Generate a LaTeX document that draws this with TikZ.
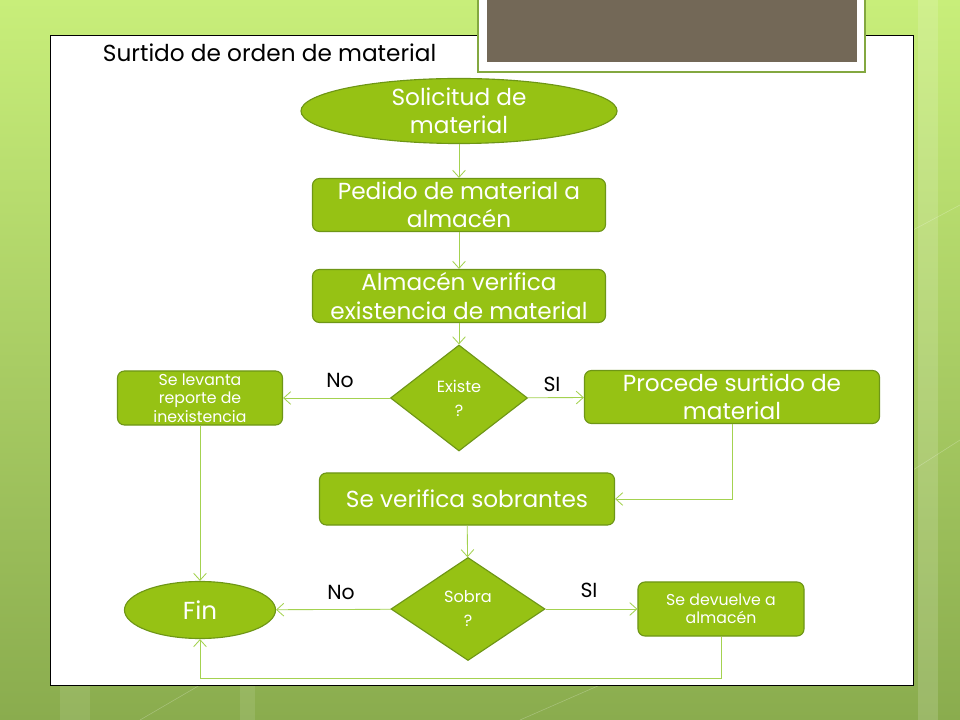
\documentclass[tikz,border=0pt]{standalone}
\usepackage{fontspec}
\setmainfont{Poppins}
\usetikzlibrary{arrows.meta, calc, positioning, shapes.geometric}

\definecolor{verdecaja}{RGB}{150,194,20}
\definecolor{bordecaja}{RGB}{110,150,22}
\definecolor{verdelinea}{RGB}{164,210,80}
\definecolor{fondoarriba}{RGB}{200,238,122}
\definecolor{fondoabajo}{RGB}{138,172,78}
\definecolor{grismarco}{RGB}{115,104,87}

\tikzset{
  caja/.style={draw=bordecaja, fill=verdecaja, rounded corners=5pt, line width=0.8pt,
    text=white, align=center, inner sep=0pt, font=\fontsize{16.5}{20}\selectfont},
  cajita/.style={caja, font=\fontsize{11.2}{13}\selectfont},
  elipse/.style={ellipse, draw=bordecaja, fill=verdecaja, line width=0.8pt,
    text=white, align=center, inner sep=0pt, font=\fontsize{16.5}{20}\selectfont},
  rombo/.style={diamond, draw=bordecaja, fill=verdecaja, line width=0.8pt, aspect=1.3,
    text=white, align=center, inner sep=0pt, font=\fontsize{11.5}{17}\selectfont},
  flecha/.style={draw=verdelinea, line width=0.6pt, -{Straight Barb[length=5pt,width=9pt]}},
  rama/.style={font=\fontsize{14.5}{17}\selectfont}
}

\begin{document}
\begin{tikzpicture}[x=0.025cm, y=-0.025cm]
        % fondo y marco
        \useasboundingbox (0,0) rectangle (960,720);
        \shade[top color=fondoarriba, bottom color=fondoabajo] (0,0) rectangle (960,720);
        \fill[white, opacity=0.15] (918,0) rectangle (938,720);
        \fill[white, opacity=0.10] (60,685) rectangle (90,720);
        \fill[white, opacity=0.10] (240,685) rectangle (255,720);
        \draw[white, opacity=0.25] (913,470) -- (960,440);
        \draw[white, opacity=0.25] (913,230) -- (960,205);
        \draw[white, opacity=0.25] (140,720) -- (200,685);
        \draw[white, opacity=0.25] (520,720) -- (600,685);
        \draw[black, fill=white, line width=0.6pt] (50,35) rectangle (913,685);
        \fill[white] (478,-2) rectangle (865,72);
        \draw[verdelinea!80!black, line width=1.2pt] (478,-2) rectangle (865,72);
        \fill[grismarco] (487,-2) rectangle (857,62);

        \node[anchor=west, font=\fontsize{16.5}{20}\selectfont] (titulo) at (98,53) {Surtido de orden de material};

        % nodos
        \node[elipse, minimum width=7.9cm, minimum height=1.55cm] (sol) at (459,111) {Solicitud de\\material};
        \node[caja, minimum width=7.325cm, minimum height=1.325cm] (ped) at (459,205) {Pedido de material a\\almacén};
        \node[caja, minimum width=7.325cm, minimum height=1.325cm] (alm) at (459,296) {Almacén verifica\\existencia de material};
        \node[rombo, minimum width=3.425cm, minimum height=2.65cm] (exi) at (459,398) {Existe\\?};
        \node[cajita, minimum width=4.125cm, minimum height=1.35cm] (rep) at (200,398) {Se levanta\\reporte de\\inexistencia};
        \node[caja, minimum width=7.375cm, minimum height=1.325cm] (pro) at (732,397) {Procede surtido de\\material};
        \node[caja, minimum width=7.375cm, minimum height=1.3cm] (ver) at (467,499) {Se verifica sobrantes};
        \node[rombo, minimum width=3.85cm, minimum height=2.575cm] (sob) at (468,609) {Sobra\\?};
        \node[elipse, minimum width=3.775cm, minimum height=1.425cm, font=\fontsize{17.5}{20}\selectfont] (fin) at (200,610) {Fin};
        \node[cajita, minimum width=4.15cm, minimum height=1.35cm] (dev) at (721,609) {Se devuelve a\\almacén};

        \node[rama] (no1) at (340,380) {No};
        \node[rama] (si1) at (552,384) {SI};
        \node[rama] (no2) at (341,592) {No};
        \node[rama] (si2) at (589,590) {SI};
        \coordinate (bajo) at (200,678);

        % conectores
        \draw[flecha] (sol) -- (ped);
        \draw[flecha] (ped) -- (alm);
        \draw[flecha] (alm) -- (exi);
        \draw[flecha] (exi) -- (rep);
        \draw[flecha] (exi) -- (pro);
        \draw[flecha] (pro.south) |- (ver.east);
        \draw[flecha] (ver) -- (sob);
        \draw[flecha] (rep) -- (fin);
        \draw[flecha] (sob) -- (fin);
        \draw[flecha] (sob) -- (dev);
        \draw[flecha] (dev.south) |- (bajo) -- (fin.south);
    \end{tikzpicture}
\end{document}
